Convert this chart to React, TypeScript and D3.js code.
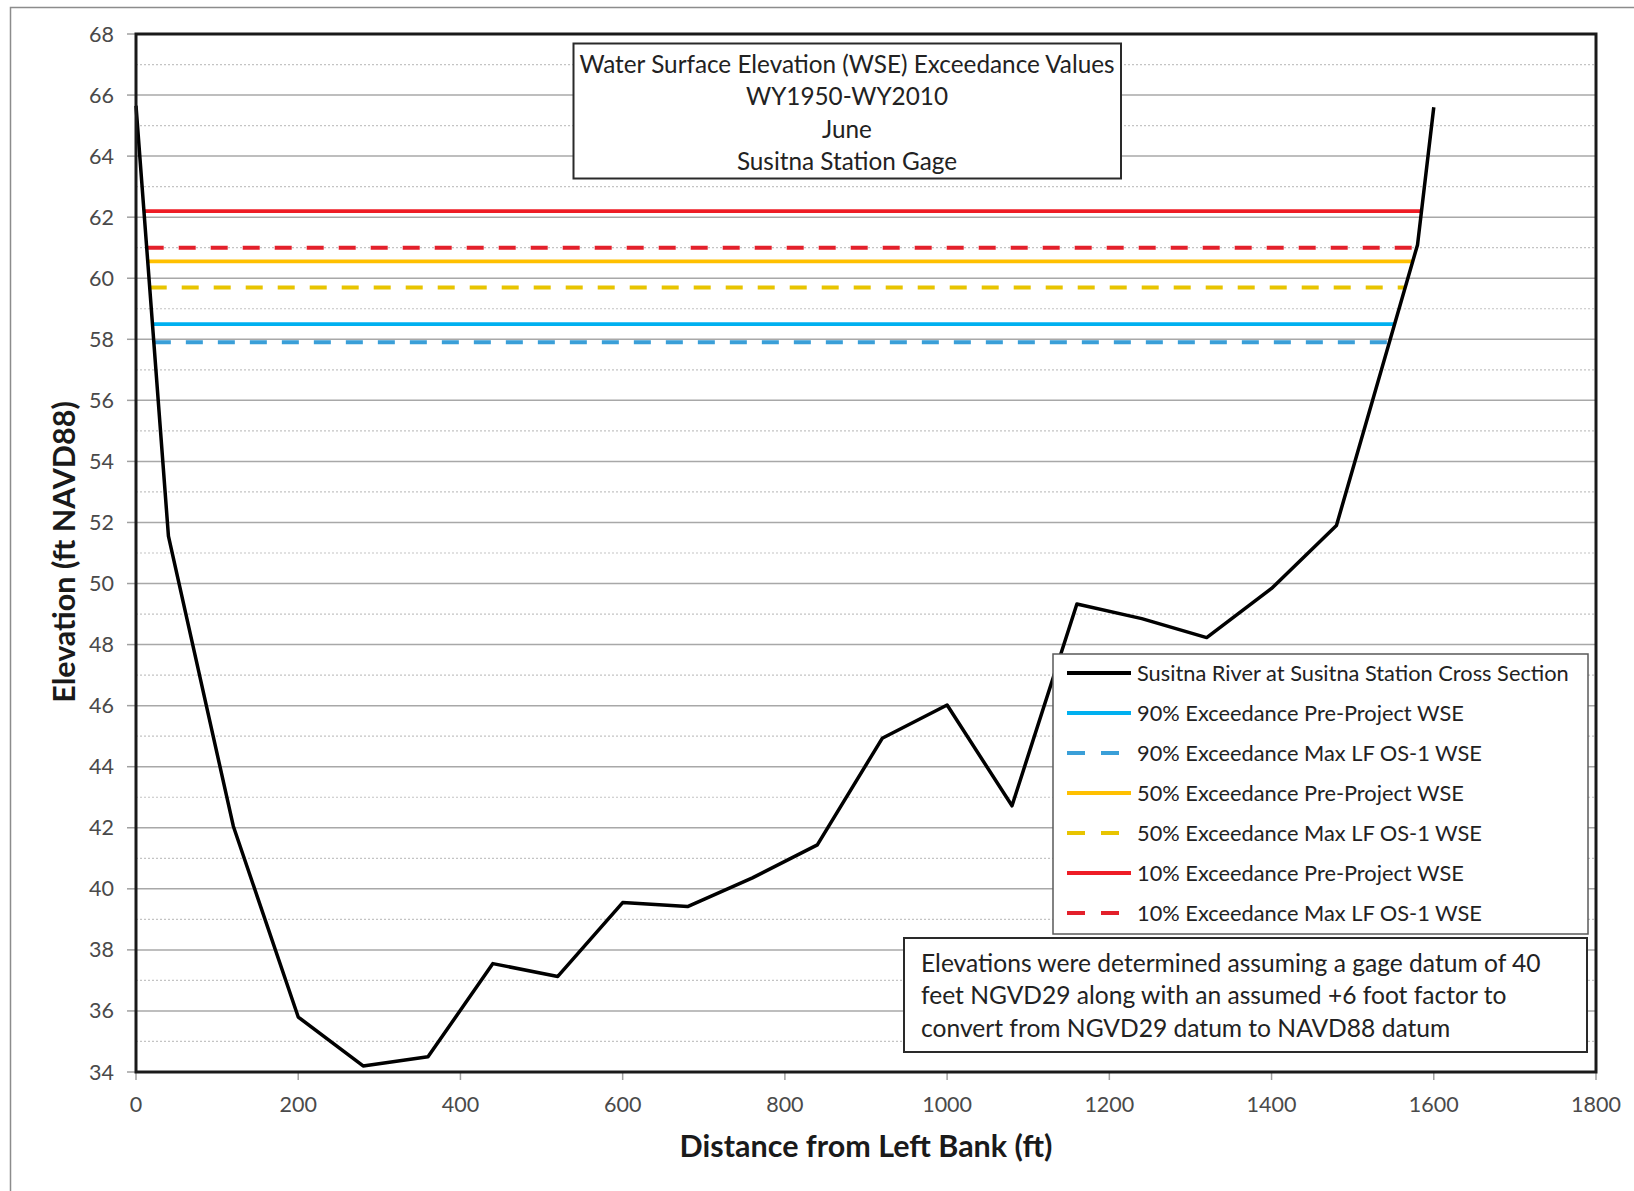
import React from "react";
import * as d3 from "d3";

// ---------- data ----------
const crossX = [0, 40, 120, 200, 280, 360, 440, 520, 600, 680, 760, 840, 920, 1000, 1080, 1160, 1240, 1320, 1400, 1480, 1580, 1600];
const crossY = [65.65, 51.55, 42.05, 35.8, 34.2, 34.5, 37.55, 37.13, 39.55, 39.42, 40.36, 41.44, 44.93, 46.02, 42.72, 49.33, 48.85, 48.23, 49.84, 51.9, 61.1, 65.6];

const wseLabels = [
  "90% Exceedance Pre-Project WSE",
  "90% Exceedance Max LF OS-1 WSE",
  "50% Exceedance Pre-Project WSE",
  "50% Exceedance Max LF OS-1 WSE",
  "10% Exceedance Pre-Project WSE",
  "10% Exceedance Max LF OS-1 WSE",
];
const wseLevel = [58.5, 57.9, 60.55, 59.7, 62.2, 61.0];
const wseStart = [20.3, 22.0, 14.5, 16.9, 9.8, 13.2];
const wseEnd = [1551.7, 1545.2, 1574.0, 1564.8, 1584.9, 1578.9];
const wseColors = ["#00b0f0", "#3a9fd8", "#ffc000", "#e8c400", "#ee1c25", "#e3202b"];
const wseDashed = [false, true, false, true, false, true];

const crossLabel = "Susitna River at Susitna Station Cross Section";

const xTickValues = [0, 200, 400, 600, 800, 1000, 1200, 1400, 1600, 1800];
const yTickValues = [34, 36, 38, 40, 42, 44, 46, 48, 50, 52, 54, 56, 58, 60, 62, 64, 66, 68];
const yMinorValues = [35, 37, 39, 41, 43, 45, 47, 49, 51, 53, 55, 57, 59, 61, 63, 65, 67];

const titleLines = [
  "Water Surface Elevation (WSE) Exceedance Values",
  "WY1950-WY2010",
  "June",
  "Susitna Station Gage",
];
const noteLines = [
  "Elevations were determined assuming a gage datum of 40",
  "feet NGVD29 along with an assumed +6 foot factor to",
  "convert from NGVD29 datum to NAVD88 datum",
];

const xTitle = "Distance from Left Bank (ft)";
const yTitle = "Elevation (ft NAVD88)";

// ---------- layout ----------
const W = 1634;
const H = 1191;
const L = 136, R = 1596, T = 34, B = 1072;
const FONT = "Lato, 'Open Sans', sans-serif";

export default function App() {
  const x = d3.scaleLinear().domain([0, 1800]).range([L, R]);
  const y = d3.scaleLinear().domain([34, 68]).range([B, T]);
  const line = d3
    .line<number>()
    .x((_, i) => x(crossX[i]))
    .y((d) => y(d));
  const crossPath = line(crossY) || "";

  const legX = 1053, legY = 654, legW = 535, legH = 280;
  const legendItems = [
    { label: crossLabel, color: "#000", dashed: false },
    ...wseLabels.map((l, i) => ({ label: l, color: wseColors[i], dashed: wseDashed[i] })),
  ];

  return (
    <svg
      width={W}
      height={H}
      viewBox={`0 0 ${W} ${H}`}
      style={{ position: "absolute", left: 0, top: 0, background: "#fff" }}
      fontFamily={FONT}
    >
      <rect x={0} y={0} width={W} height={H} fill="#fff" />
      {/* outer border */}
      <rect x={10.5} y={7.5} width={W} height={H} fill="none" stroke="#8c8c8c" strokeWidth={1.5} />

      {/* minor gridlines */}
      {yMinorValues.map((v) => (
        <line key={"mn" + v} x1={L} x2={R} y1={y(v)} y2={y(v)} stroke="#c4c4c4" strokeWidth={1.2} strokeDasharray="2 2" />
      ))}
      {/* major gridlines */}
      {yTickValues.map((v) => (
        <line key={"mj" + v} x1={L} x2={R} y1={y(v)} y2={y(v)} stroke="#a8a8a8" strokeWidth={1.5} />
      ))}

      {/* y ticks + labels */}
      {yTickValues.map((v) => (
        <g key={"yt" + v}>
          <line x1={L - 9} x2={L} y1={y(v)} y2={y(v)} stroke="#a0a0a0" strokeWidth={1.5} />
          <text x={114} y={y(v)} dy="0.35em" textAnchor="end" fontSize={21.5} fill="#4a4a4a">
            {v}
          </text>
        </g>
      ))}
      {/* x ticks + labels */}
      {xTickValues.map((v) => (
        <g key={"xt" + v}>
          <line x1={x(v)} x2={x(v)} y1={B} y2={B + 8} stroke="#a0a0a0" strokeWidth={1.5} />
          <text x={x(v)} y={1112} textAnchor="middle" fontSize={21.5} fill="#4a4a4a">
            {v}
          </text>
        </g>
      ))}

      {/* WSE lines */}
      {wseLevel.map((lv, i) => (
        <line
          key={"wse" + i}
          x1={x(wseStart[i])}
          x2={x(wseEnd[i])}
          y1={y(lv)}
          y2={y(lv)}
          stroke={wseColors[i]}
          strokeWidth={wseDashed[i] ? 4 : 3.8}
          strokeDasharray={wseDashed[i] ? "17 15" : undefined}
        />
      ))}

      {/* cross section */}
      <path d={crossPath} fill="none" stroke="#000" strokeWidth={3.5} strokeLinejoin="round" />

      {/* plot frame */}
      <rect x={L} y={T} width={R - L} height={B - T} fill="none" stroke="#1a1a1a" strokeWidth={3} />

      {/* axis titles */}
      <text x={866} y={1157} textAnchor="middle" fontSize={30.5} fontWeight="bold" fill="#1a1a1a">
        {xTitle}
      </text>
      <text transform="translate(75,552) rotate(-90)" textAnchor="middle" fontSize={30.5} fontWeight="bold" fill="#1a1a1a">
        {yTitle}
      </text>

      {/* title box */}
      <rect x={573.5} y={43.5} width={547.5} height={135} fill="#fff" stroke="#2a2a2a" strokeWidth={2} />
      {titleLines.map((t, i) => (
        <text key={"tl" + i} x={847} y={73 + i * 32.4} textAnchor="middle" fontSize={24.3} fill="#222">
          {t}
        </text>
      ))}

      {/* legend */}
      <rect x={legX} y={legY} width={legW} height={legH} fill="#fff" stroke="#5a5a5a" strokeWidth={1.5} />
      {legendItems.map((it, i) => {
        const cy = 673 + i * 40;
        return (
          <g key={"lg" + i}>
            <line
              x1={1067}
              x2={1131}
              y1={cy}
              y2={cy}
              stroke={it.color}
              strokeWidth={it.dashed ? 4 : 3.8}
              strokeDasharray={it.dashed ? "18 16" : undefined}
            />
            <text x={1137} y={cy} dy="0.35em" fontSize={21.8} fill="#222">
              {it.label}
            </text>
          </g>
        );
      })}

      {/* note box */}
      <rect x={904} y={938} width={683} height={114} fill="#fff" stroke="#2a2a2a" strokeWidth={2} />
      {noteLines.map((t, i) => (
        <text key={"nt" + i} x={921} y={972 + i * 32.3} fontSize={24.6} fill="#222">
          {t}
        </text>
      ))}
    </svg>
  );
}
